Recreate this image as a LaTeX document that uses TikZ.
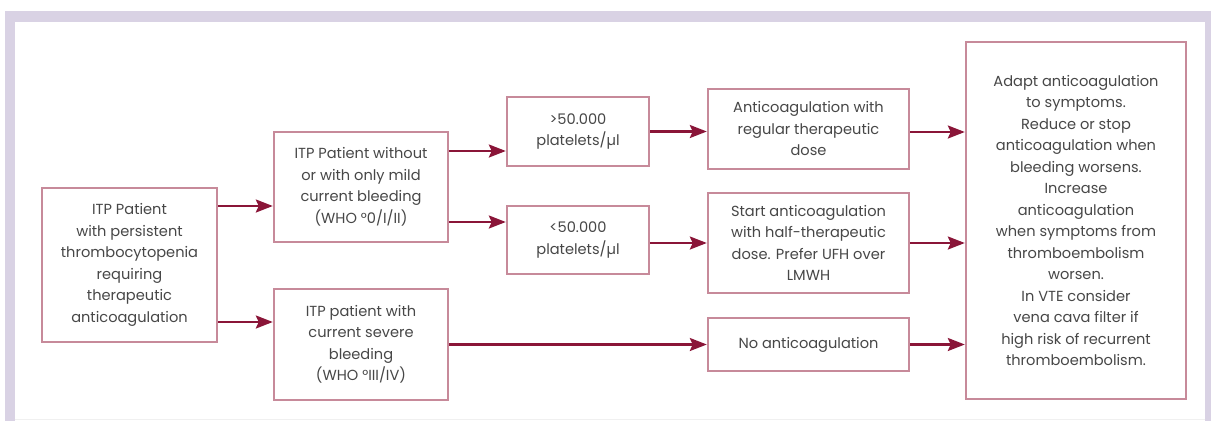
\documentclass[tikz,border=0pt]{standalone}
\usepackage{fontspec}
\setmainfont{Poppins}
\usepackage{xcolor}
\usetikzlibrary{arrows.meta,positioning,calc}

\definecolor{boxrose}{HTML}{C78A9A}
\definecolor{arrowred}{HTML}{8A1538}
\definecolor{framelilac}{HTML}{D9D2E4}
\definecolor{textgray}{HTML}{474747}

\tikzset{
    flowbox/.style={draw=boxrose, line width=2.4pt, fill=white, align=center,
        text=textgray, inner sep=2pt, font=\fontsize{14.6}{21.5}\selectfont},
    flowarrow/.style={draw=arrowred, line width=2.4pt,
        -{Stealth[length=17pt,width=13pt,inset=3pt]}},
}

\begin{document}
\begin{tikzpicture}[x=1pt, y=-1pt]
    \useasboundingbox (0,0) rectangle (1211,421);
    % Rahmen
    \fill[framelilac] (5,11) rectangle (1211,421);
    \fill[white] (15,22) rectangle (1205,421);
    \draw[gray!12, line width=1pt] (15,419.5) -- (1205,419.5);

    % Ausgangslage
    \node[flowbox, minimum width=175pt, minimum height=154pt] (start) at (129.5,265)
        {ITP Patient\\with persistent\\thrombocytopenia\\requiring\\therapeutic\\anticoagulation};

    % Blutungsstatus
    \node[flowbox, minimum width=174pt, minimum height=110pt] (mild) at (361,187)
        {ITP Patient without\\or with only mild\\current bleeding\\(WHO °0/I/II)};
    \node[flowbox, minimum width=174pt, minimum height=111pt] (severe) at (361,344.5)
        {ITP patient with\\current severe\\bleeding\\(WHO °III/IV)};

    % Thrombozytenzahl
    \node[flowbox, minimum width=142pt, minimum height=69pt] (high) at (578,131.5)
        {>50.000\\platelets/µl};
    \node[flowbox, minimum width=142pt, minimum height=68pt] (low) at (578,240)
        {<50.000\\platelets/µl};

    % Antikoagulation
    \node[flowbox, minimum width=201pt, minimum height=80pt] (regular) at (808.5,129)
        {Anticoagulation with\\regular therapeutic\\dose};
    \node[flowbox, minimum width=201pt, minimum height=100pt] (half) at (808.5,243)
        {Start anticoagulation\\with half-therapeutic\\dose. Prefer UFH over\\LMWH};
    \node[flowbox, minimum width=201pt, minimum height=53pt] (none) at (808.5,344.5)
        {No anticoagulation};

    % Verlauf
    \node[flowbox, minimum width=220pt, minimum height=357pt] (outcome) at (1076,220.5)
        {Adapt anticoagulation\\to symptoms.\\Reduce or stop\\anticoagulation when\\bleeding worsens.\\Increase\\anticoagulation\\when symptoms from\\thromboembolism\\worsen.\\In VTE consider\\vena cava filter if\\high risk of recurrent\\thromboembolism.};

    % Pfeile
    \draw[flowarrow] ([yshift=59pt]start.east) -- ([yshift=59pt]start.east -| mild.west);
    \draw[flowarrow] ([yshift=-57pt]start.east) -- ([yshift=-57pt]start.east -| severe.west);
    \draw[flowarrow] ([yshift=36pt]mild.east) -- ([yshift=36pt]mild.east -| high.west);
    \draw[flowarrow] ([yshift=-35pt]mild.east) -- ([yshift=-35pt]mild.east -| low.west);
    \draw[flowarrow] (high.east) -- (high.east -| regular.west);
    \draw[flowarrow] ([yshift=-3pt]low.east) -- ([yshift=-3pt]low.east -| half.west);
    \draw[flowarrow] (severe.east) -- (severe.east -| none.west);
    \draw[flowarrow] ([yshift=-3pt]regular.east) -- ([yshift=-3pt]regular.east -| outcome.west);
    \draw[flowarrow] (half.east) -- (half.east -| outcome.west);
    \draw[flowarrow] (none.east) -- (none.east -| outcome.west);
\end{tikzpicture}
\end{document}
